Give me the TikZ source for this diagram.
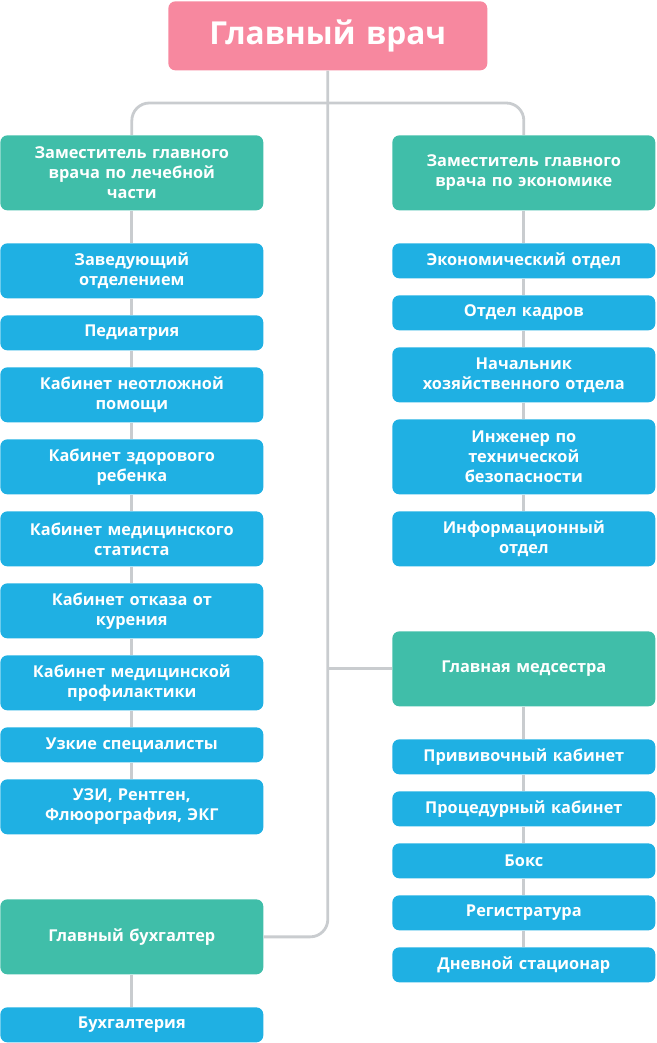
\documentclass[tikz,border=0pt]{standalone}
\usepackage{fontspec}
\setmainfont{Open Sans}
\usepackage{tikz}

\definecolor{pinkbox}{HTML}{F7889F}
\definecolor{greenbox}{HTML}{40BEA9}
\definecolor{bluebox}{HTML}{1FB0E3}
\definecolor{linkgray}{HTML}{C9CCCF}

\tikzset{
  unit/.style={anchor=north west, rounded corners=4pt, inner sep=0pt,
    minimum width=5.26cm, text width=5cm, align=center, text=white,
    font=\bfseries\fontsize{9.3}{11.4}\selectfont},
  head/.style={unit, fill=greenbox, minimum height=1.5cm},
  dept/.style={unit, fill=bluebox, minimum height=#1},
  dept/.default=0.7cm,
  link/.style={draw=linkgray, line width=1.6pt}
}

\begin{document}
\begin{tikzpicture}[x=0.02cm, y=-0.02cm]
 \useasboundingbox (0,0) rectangle (656,1043);

 % Top of the tree
 \node[unit, fill=pinkbox, minimum width=6.38cm, text width=6cm, minimum height=1.38cm,
   font=\bfseries\fontsize{18}{20}\selectfont] (chief) at (168,1) {Главный врач};

 % Deputies
 \node[head] (zamleft) at (0,135) {Заместитель главного\\врача по лечебной\\части};
 \node[head] (zamright) at (392,135) {Заместитель главного\\врача по экономике};

 % Left column
 \node[dept=1.1cm] (zav) at (0,243) {Заведующий\\отделением};
 \node[dept] (ped) at (0,315) {Педиатрия};
 \node[dept=1.1cm] (urgent) at (0,367) {Кабинет неотложной\\помощи};
 \node[dept=1.1cm] (healthy) at (0,439) {Кабинет здорового\\ребенка};
 \node[dept=1.1cm] (stat) at (0,511) {Кабинет медицинского\\статиста};
 \node[dept=1.1cm] (smoke) at (0,583) {Кабинет отказа от\\курения};
 \node[dept=1.1cm] (prof) at (0,655) {Кабинет медицинской\\профилактики};
 \node[dept] (spec) at (0,727) {Узкие специалисты};
 \node[dept=1.1cm] (diag) at (0,779) {УЗИ, Рентген,\\Флюорография, ЭКГ};

 % Right column
 \node[dept] (econ) at (392,243) {Экономический отдел};
 \node[dept] (staff) at (392,295) {Отдел кадров};
 \node[dept=1.1cm] (house) at (392,347) {Начальник\\хозяйственного отдела};
 \node[dept=1.5cm] (safety) at (392,419) {Инженер по\\технической\\безопасности};
 \node[dept=1.1cm] (info) at (392,511) {Информационный\\отдел};

 % Head nurse
 \node[head] (nurse) at (392,631) {Главная медсестра};
 \node[dept] (vacc) at (392,739) {Прививочный кабинет};
 \node[dept] (proc) at (392,791) {Процедурный кабинет};
 \node[dept] (box) at (392,843) {Бокс};
 \node[dept] (reg) at (392,895) {Регистратура};
 \node[dept] (day) at (392,947) {Дневной стационар};

 % Accountant
 \node[head] (buh) at (0,899) {Главный бухгалтер};
 \node[dept] (buhdept) at (0,1007) {Бухгалтерия};

 % Connectors
 \coordinate (fork) at (328,103);
 \draw[link, rounded corners=10pt] (zamleft.north) |- (fork) -| (zamright.north);
 \draw[link, rounded corners=10pt] (chief.south) |- (buh.east);
 \draw[link] (chief.south |- nurse.west) -- (nurse.west);

 \foreach \a/\b in {zamleft/zav, zav/ped, ped/urgent, urgent/healthy, healthy/stat,
   stat/smoke, smoke/prof, prof/spec, spec/diag,
   zamright/econ, econ/staff, staff/house, house/safety, safety/info,
   nurse/vacc, vacc/proc, proc/box, box/reg, reg/day, buh/buhdept}
   \draw[link] (\a.south) -- (\b.north);

\end{tikzpicture}
\end{document}
